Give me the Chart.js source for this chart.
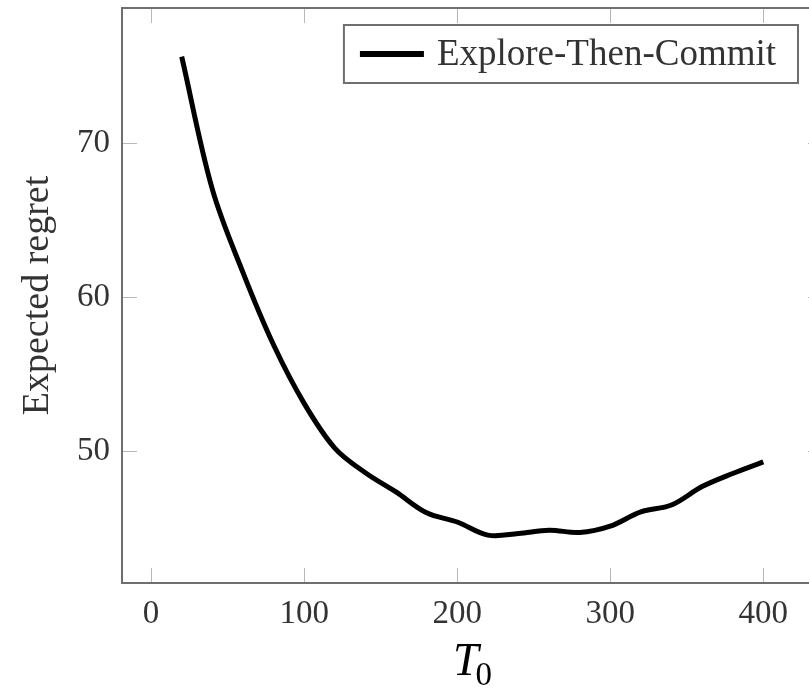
<!DOCTYPE html>
<html>
<head>
<meta charset="utf-8">
<script src="https://cdn.jsdelivr.net/npm/chart.js@4/dist/chart.umd.min.js"></script>
<style>
  html, body { margin: 0; padding: 0; background: #fff; overflow: hidden; }
  #wrap { width: 830px; height: 688px; }
</style>
</head>
<body>
<div id="wrap"><canvas id="regretChart" width="830" height="688"></canvas></div>
<script>
// Expected regret of Explore-Then-Commit vs exploration length T0
const t0Values = [20, 40, 60, 80, 100, 120, 140, 160, 180, 200, 220, 240, 260, 280, 300, 320, 340, 360, 380, 400];
const regretValues = [75.6, 67.0, 61.6, 56.9, 53.1, 50.2, 48.6, 47.35, 46.0, 45.4, 44.55, 44.65, 44.87, 44.72, 45.13, 46.06, 46.5, 47.7, 48.55, 49.3];
const xTicks = [0, 100, 200, 300, 400];
const yTicks = [50, 60, 70];
const seriesLabel = 'Explore-Then-Commit';

const SERIF = '"Liberation Serif", "Times New Roman", serif';
const FRAME = '#6f6f6f';
const TICK = '#b8b8b8';
const TEXT = '#333';

// pgfplots-like frame, inward ticks, boxed legend and T0 label
const pgfLook = {
  id: 'pgfLook',
  afterDraw(chart) {
    const { ctx, chartArea: a, scales: { x, y } } = chart;
    ctx.save();

    // inward ticks
    ctx.strokeStyle = TICK;
    ctx.lineWidth = 1;
    ctx.beginPath();
    xTicks.forEach(v => {
      const px = Math.round(x.getPixelForValue(v)) + 0.5;
      ctx.moveTo(px, a.bottom); ctx.lineTo(px, a.bottom - 15);
      ctx.moveTo(px, a.top); ctx.lineTo(px, a.top + 15);
    });
    yTicks.forEach(v => {
      const py = Math.round(y.getPixelForValue(v)) + 0.5;
      ctx.moveTo(a.left, py); ctx.lineTo(a.left + 15, py);
      ctx.moveTo(a.right, py); ctx.lineTo(a.right - 15, py);
    });
    ctx.stroke();

    // frame
    ctx.strokeStyle = FRAME;
    ctx.lineWidth = 2;
    ctx.strokeRect(a.left, a.top, a.right - a.left, a.bottom - a.top);

    // legend box
    const ds = chart.data.datasets[0];
    ctx.font = '37px ' + SERIF;
    const tw = ctx.measureText(ds.label).width;
    const boxRight = a.right - 25;
    const boxW = 16 + 64 + 13 + tw + 22;
    const boxL = boxRight - boxW;
    const boxT = a.top + 17;
    const boxH = 58;
    ctx.fillStyle = '#fff';
    ctx.fillRect(boxL, boxT, boxW, boxH);
    ctx.strokeStyle = FRAME;
    ctx.lineWidth = 2;
    ctx.strokeRect(boxL, boxT, boxW, boxH);
    ctx.strokeStyle = ds.borderColor;
    ctx.lineWidth = 6;
    ctx.beginPath();
    ctx.moveTo(boxL + 16, boxT + boxH / 2);
    ctx.lineTo(boxL + 80, boxT + boxH / 2);
    ctx.stroke();
    ctx.fillStyle = TEXT;
    ctx.textBaseline = 'middle';
    ctx.textAlign = 'left';
    ctx.fillText(ds.label, boxL + 93, boxT + boxH / 2 + 1);

    // x axis title: italic T with subscript 0
    const cx = (a.left + a.right) / 2;
    ctx.fillStyle = '#000';
    ctx.textBaseline = 'alphabetic';
    ctx.font = 'italic 46px ' + SERIF;
    const tW = ctx.measureText('T').width;
    ctx.font = '33px ' + SERIF;
    const zW = ctx.measureText('0').width;
    const startX = cx - (tW + zW - 3) / 2;
    ctx.font = 'italic 46px ' + SERIF;
    ctx.fillText('T', startX, 675);
    ctx.font = '33px ' + SERIF;
    ctx.fillText('0', startX + tW - 3, 685);

    ctx.restore();
  }
};

new Chart(document.getElementById('regretChart'), {
  type: 'line',
  data: {
    labels: t0Values,
    datasets: [{
      label: seriesLabel,
      data: t0Values.map((t, i) => ({ x: t, y: regretValues[i] })),
      borderColor: '#000',
      borderWidth: 5,
      pointRadius: 0,
      fill: false,
      tension: 0.35
    }]
  },
  options: {
    responsive: false,
    animation: false,
    layout: { padding: { top: 8, right: 7, left: 0, bottom: 0 } },
    plugins: { legend: { display: false }, tooltip: { enabled: false } },
    scales: {
      x: {
        type: 'linear',
        min: -19,
        max: 439,
        afterBuildTicks: s => { s.ticks = xTicks.map(v => ({ value: v })); },
        afterFit: s => { s.height = 105; s.paddingLeft = 0; s.paddingRight = 0; },
        grid: { display: false, drawTicks: false },
        border: { display: false },
        ticks: { color: TEXT, padding: 12, font: { family: SERIF, size: 33 } }
      },
      y: {
        min: 41.44,
        max: 78.76,
        afterBuildTicks: s => { s.ticks = yTicks.map(v => ({ value: v })); },
        afterFit: s => { s.width = 122; s.paddingTop = 0; s.paddingBottom = 0; },
        grid: { display: false, drawTicks: false },
        border: { display: false },
        ticks: { color: TEXT, padding: 12, font: { family: SERIF, size: 33 } },
        title: {
          display: true,
          text: 'Expected regret',
          color: TEXT,
          padding: { top: 15, bottom: 0 },
          font: { family: SERIF, size: 38 }
        }
      }
    }
  },
  plugins: [pgfLook]
});
</script>
</body>
</html>
